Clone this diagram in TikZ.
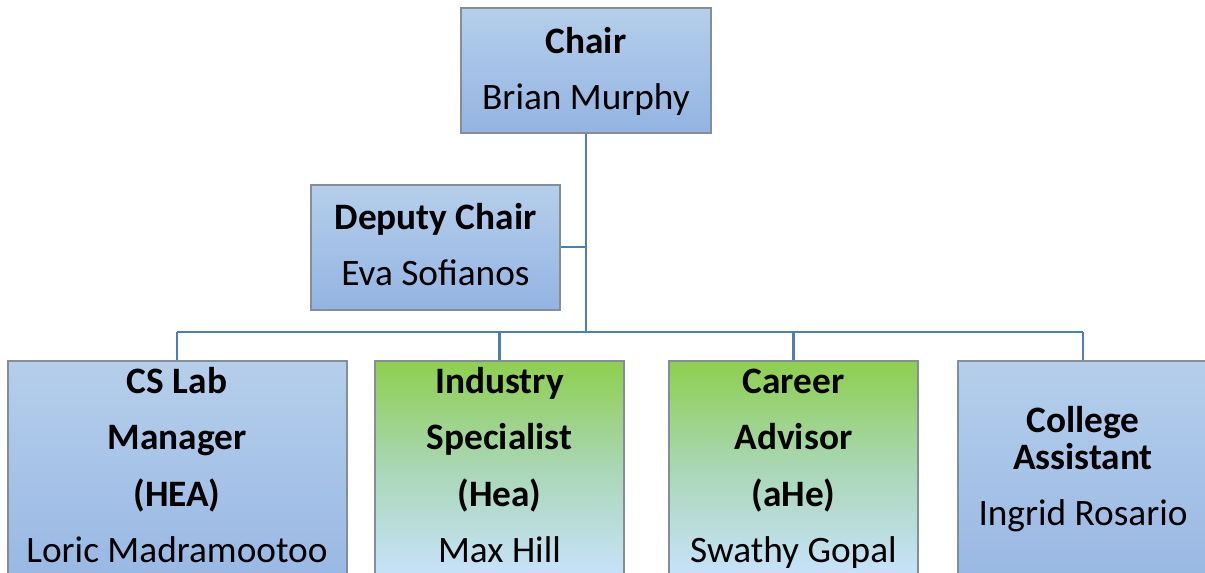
\documentclass[tikz,border=0pt]{standalone}
\usepackage{fontspec}
\setmainfont{Carlito}
\begin{document}
\begin{tikzpicture}[x=1pt,y=-1pt,
  box/.style={draw=boxedge, line width=1.1pt, rectangle, inner sep=0pt},
  bluebox/.style={box, top color=bluetop, bottom color=bluebot},
  greenbox/.style={box, top color=greentop, bottom color=greenbot, middle color=greenmid},
  lbl/.style={inner sep=0pt, anchor=base, font=\fontsize{37.3}{41}\selectfont},
  ttl/.style={lbl, font=\fontsize{37.3}{41}\selectfont\bfseries},
  link/.style={draw=linkblue, line width=2.8pt}]
\definecolor{bluetop}{HTML}{B5CEEB}
\definecolor{bluebot}{HTML}{93B4E2}
\definecolor{greentop}{HTML}{8ECF4E}
\definecolor{greenmid}{HTML}{A9D7B6}
\definecolor{greenbot}{HTML}{C8E2FC}
\definecolor{boxedge}{HTML}{858D96}
\definecolor{linkblue}{HTML}{4E7FB0}
\useasboundingbox (0,0) rectangle (1205,573);
\clip (0,0) rectangle (1205,573);
\fill[white] (0,0) rectangle (1205,573);

% connector hubs
\coordinate (hub) at (586,332);
\coordinate (dephub) at (586,247);

% connectors
\draw[link] (586,133) -- (hub);
\draw[link] (560,247) -- (dephub);
\draw[link] (177,332) -- (1083,332);
\foreach \cx in {177,499.5,793.5,1083} \draw[link] (\cx,332) -- (\cx,362);

% boxes
\node[bluebox, minimum width=250pt, minimum height=125pt] (chair) at (586,70.5) {};
\node[bluebox, minimum width=249pt, minimum height=125pt] (deputy) at (435.5,247.5) {};
\node[bluebox, minimum width=339pt, minimum height=260pt] (cslab) at (177.5,491) {};
\node[greenbox, minimum width=249pt, minimum height=216pt] (industry) at (499.5,469) {};
\node[greenbox, minimum width=249pt, minimum height=216pt] (career) at (793.5,469) {};
\node[bluebox, minimum width=250pt, minimum height=260pt] (college) at (1083,491) {};

% texts
\node[ttl] (chairT) at (586,53) {Chair};
\node[lbl] (chairN) at (586,109.5) {Brian Murphy};

\node[ttl] (depT) at (435.5,229) {Deputy Chair};
\node[lbl] (depN) at (435.5,285.5) {Eva Sofianos};

\node[ttl] (csA) at (177,393) {CS Lab};
\node[ttl] (csB) at (177,449.5) {Manager};
\node[ttl] (csC) at (177,506) {(HEA)};
\node[lbl] (csN) at (177,562.5) {Loric Madramootoo};

\node[ttl] (inA) at (499.5,393) {Industry};
\node[ttl] (inB) at (499.5,449.5) {Specialist};
\node[ttl] (inC) at (499.5,506) {(Hea)};
\node[lbl] (inN) at (499.5,562.5) {Max Hill};

\node[ttl] (caA) at (793.5,393) {Career};
\node[ttl] (caB) at (793.5,449.5) {Advisor};
\node[ttl] (caC) at (793.5,506) {(aHe)};
\node[lbl] (caN) at (793.5,562.5) {Swathy Gopal};

\node[ttl] (coA) at (1083,432) {College};
\node[ttl] (coB) at (1083,469) {Assistant};
\node[lbl] (coN) at (1083,525.5) {Ingrid Rosario};
\end{tikzpicture}
\end{document}
